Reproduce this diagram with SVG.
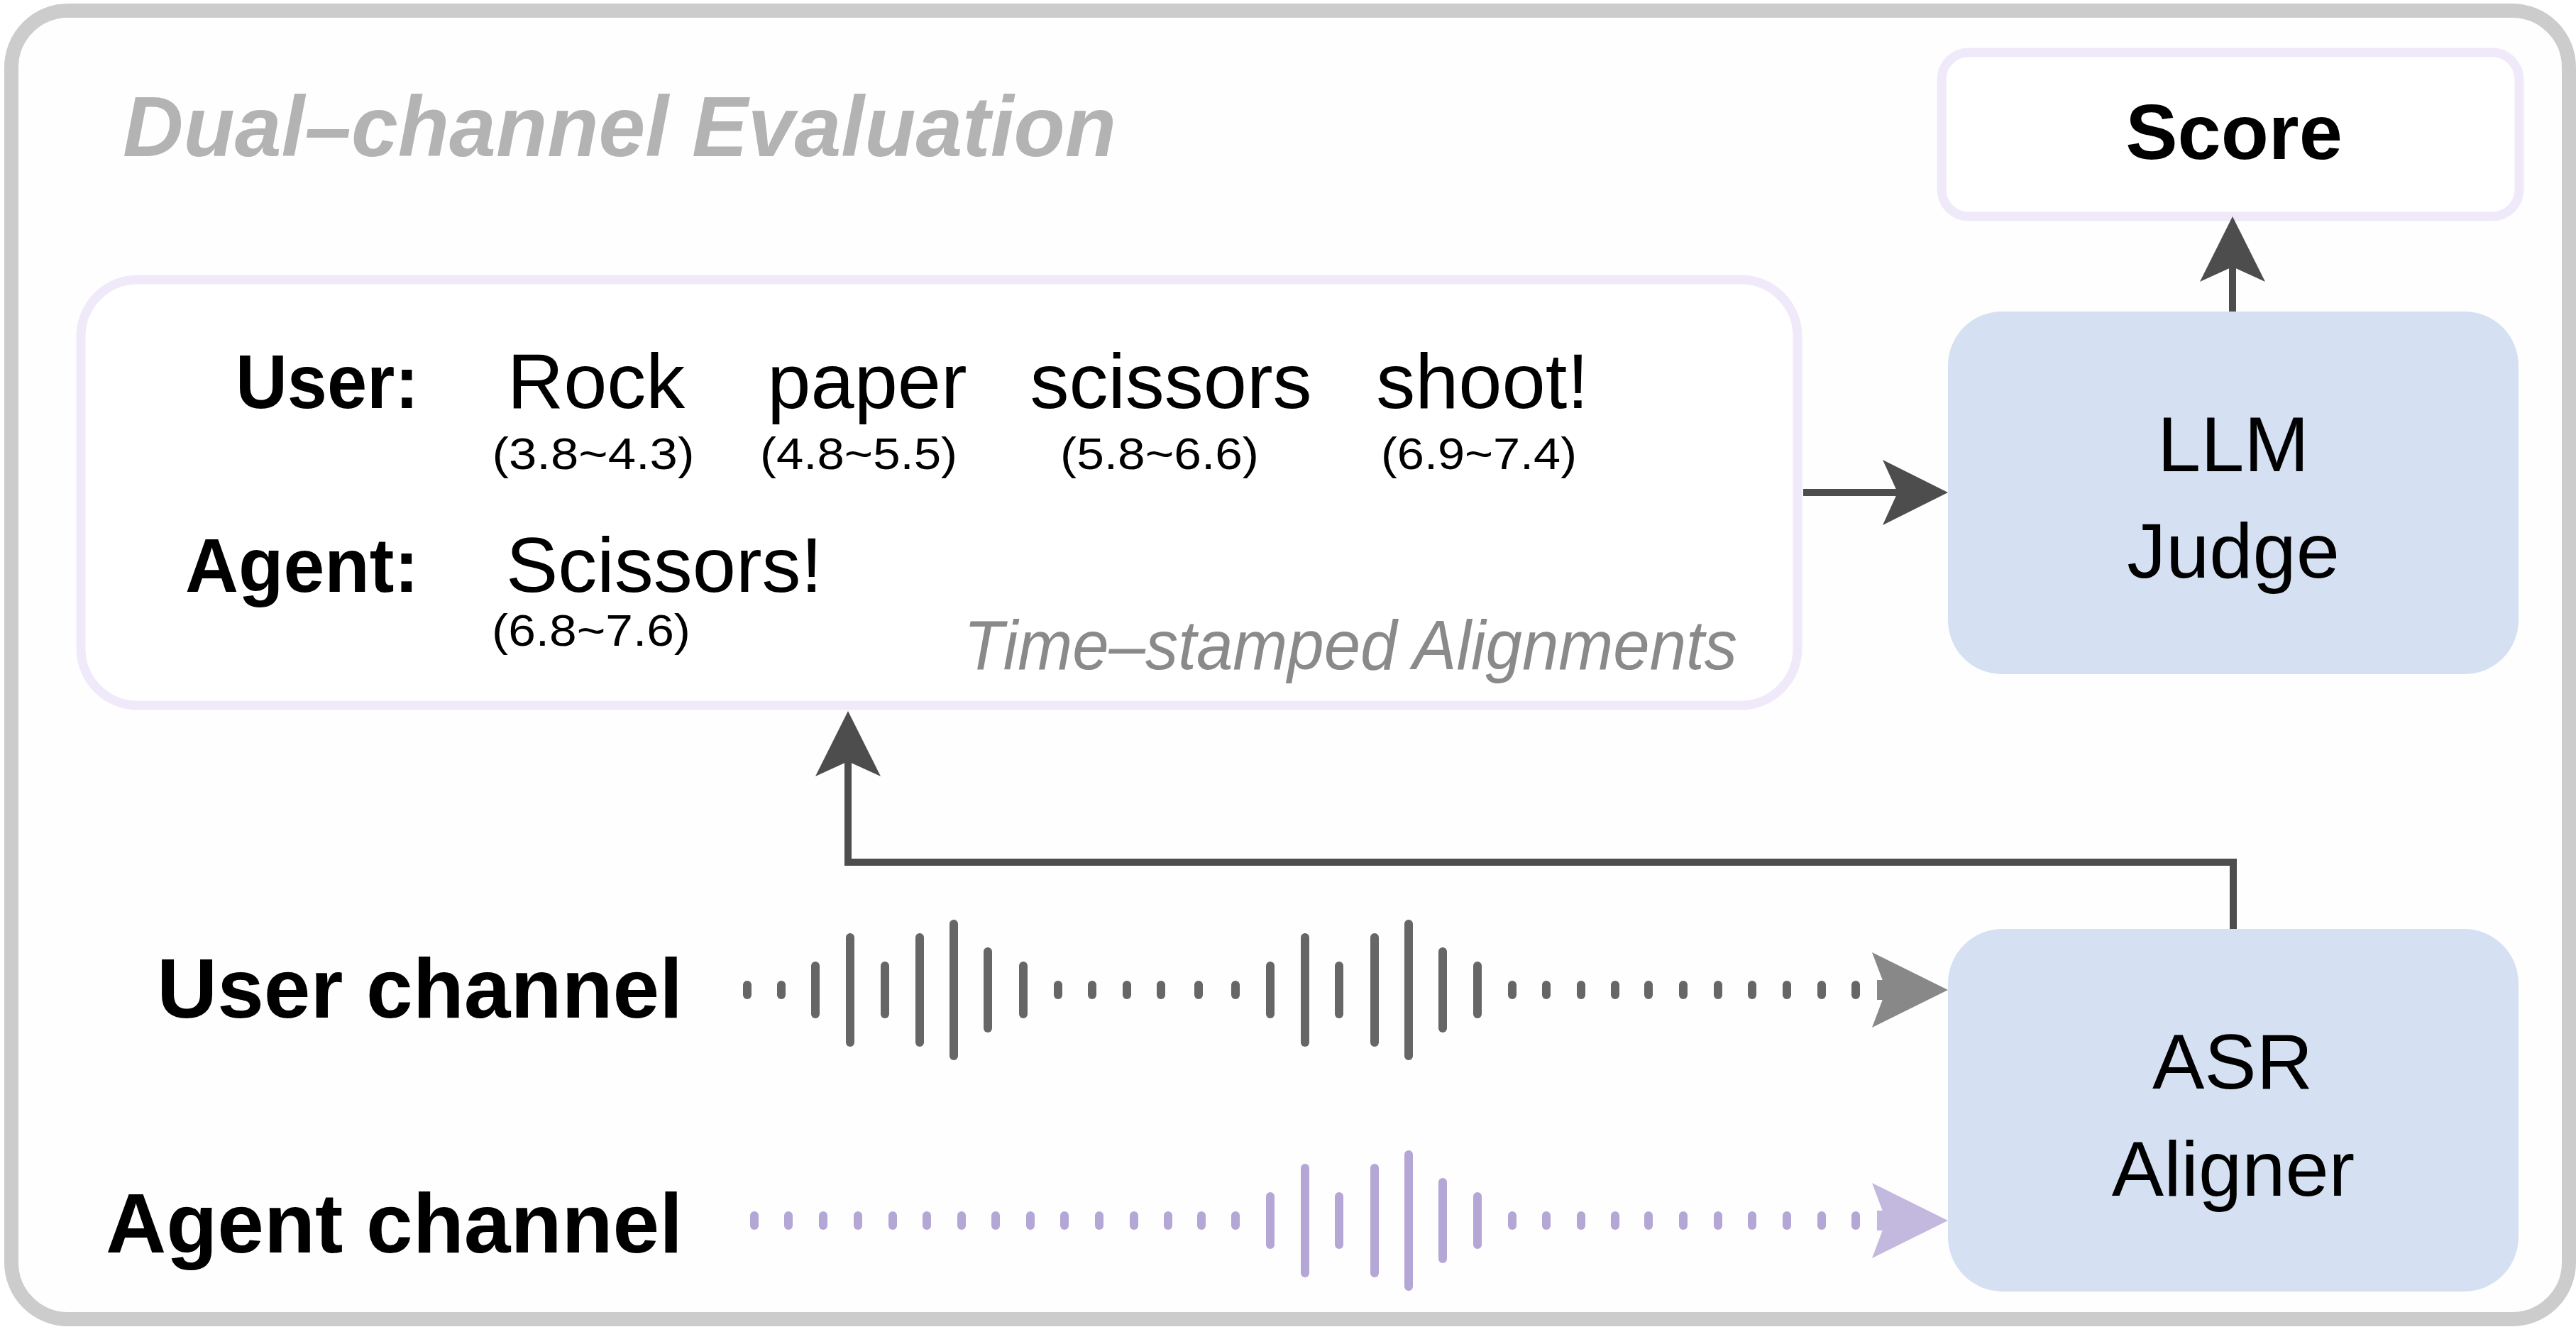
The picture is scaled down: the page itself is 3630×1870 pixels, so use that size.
<svg xmlns="http://www.w3.org/2000/svg" width="3630" height="1870" viewBox="0 0 3630 1870">
<style>
text{font-family:"Liberation Sans",Arial,Helvetica,sans-serif;fill:#000}
.b{font-weight:bold}
.w{font-size:110px}
.ts{font-size:63px;text-anchor:middle}
.mid{text-anchor:middle}
.lbox{fill:#ffffff;stroke:#f0e9f9;stroke-width:13}
.blue{fill:#d5e1f3}
.conn{fill:none;stroke:#4d4d4d;stroke-width:10}
.ub{stroke:#666666;stroke-width:12;stroke-linecap:round}
.ab{stroke:#b4a7d6;stroke-width:12;stroke-linecap:round}
</style>
<defs>
<marker id="ah" markerUnits="userSpaceOnUse" viewBox="0 -46 92 92" markerWidth="92" markerHeight="92" refX="21" refY="0" orient="auto" overflow="visible">
<path d="M0,-46 L92,0 L0,46 L21,0 Z" fill="#4d4d4d"/>
</marker>
<marker id="ahu" markerUnits="userSpaceOnUse" viewBox="0 -53 107 106" markerWidth="107" markerHeight="106" refX="20" refY="0" orient="auto" overflow="visible">
<path d="M0,-53 L107,0 L0,53 L20,0 Z" fill="#888888"/>
</marker>
<marker id="aha" markerUnits="userSpaceOnUse" viewBox="0 -53 107 106" markerWidth="107" markerHeight="106" refX="20" refY="0" orient="auto" overflow="visible">
<path d="M0,-53 L107,0 L0,53 L20,0 Z" fill="#c3b8de"/>
</marker>
</defs>
<rect width="3630" height="1870" fill="#ffffff"/>
<g id="frame">
<rect x="16" y="15" width="3604" height="1844" rx="80" fill="#fefefe" stroke="#cccccc" stroke-width="20"/>
<text x="173" y="220" class="b" font-style="italic" font-size="120" fill="#b3b3b3" style="fill:#b3b3b3" textLength="1400" lengthAdjust="spacingAndGlyphs">Dual–channel Evaluation</text>
</g>
<g id="score">
<rect x="2736" y="74" width="814" height="231" rx="38" class="lbox"/>
<text x="3148" y="224" class="b mid" font-size="110">Score</text>
</g>
<g id="llm-judge">
<rect x="2745" y="439" width="804" height="511" rx="76" class="blue"/>
<text x="3147" y="664" class="mid w">LLM</text>
<text x="3147" y="814" class="mid w">Judge</text>
</g>
<g id="alignments">
<rect x="114" y="394" width="2419" height="600" rx="80" class="lbox"/>
<text x="590" y="575" class="b" font-size="108" text-anchor="end" textLength="258" lengthAdjust="spacingAndGlyphs">User:</text>
<text x="840" y="575" class="w mid">Rock</text>
<text x="1222" y="575" class="w mid">paper</text>
<text x="1650" y="575" class="w mid">scissors</text>
<text x="2089" y="575" class="w mid">shoot!</text>
<text x="836" y="661" class="ts" textLength="285" lengthAdjust="spacingAndGlyphs">(3.8~4.3)</text>
<text x="1210" y="661" class="ts" textLength="278" lengthAdjust="spacingAndGlyphs">(4.8~5.5)</text>
<text x="1634" y="661" class="ts" textLength="280" lengthAdjust="spacingAndGlyphs">(5.8~6.6)</text>
<text x="2084" y="661" class="ts" textLength="276" lengthAdjust="spacingAndGlyphs">(6.9~7.4)</text>
<text x="590" y="834" class="b" font-size="108" text-anchor="end" textLength="329" lengthAdjust="spacingAndGlyphs">Agent:</text>
<text x="936" y="834" class="w mid">Scissors!</text>
<text x="833" y="910" class="ts" textLength="280" lengthAdjust="spacingAndGlyphs">(6.8~7.6)</text>
<text x="1358" y="943" font-style="italic" font-size="98" style="fill:#8a8a8a" textLength="1090" lengthAdjust="spacingAndGlyphs">Time–stamped Alignments</text>
</g>
<g id="asr-aligner">
<rect x="2745" y="1309" width="804" height="511" rx="77" class="blue"/>
<text x="3146" y="1534" class="mid w">ASR</text>
<text x="3147" y="1685" class="mid w">Aligner</text>
</g>
<g id="user-channel">
<text x="962" y="1434" class="b" font-size="118" text-anchor="end">User channel</text>
<g class="ub">
<line x1="1053" y1="1388" x2="1053" y2="1402"/>
<line x1="1101" y1="1388" x2="1101" y2="1402"/>
<line x1="1149" y1="1361" x2="1149" y2="1429"/>
<line x1="1198" y1="1321" x2="1198" y2="1469"/>
<line x1="1247" y1="1361" x2="1247" y2="1429"/>
<line x1="1296" y1="1321" x2="1296" y2="1469"/>
<line x1="1344" y1="1302" x2="1344" y2="1488"/>
<line x1="1392" y1="1341" x2="1392" y2="1449"/>
<line x1="1442" y1="1361" x2="1442" y2="1429"/>
<line x1="1491" y1="1388" x2="1491" y2="1402"/>
<line x1="1539" y1="1388" x2="1539" y2="1402"/>
<line x1="1588" y1="1388" x2="1588" y2="1402"/>
<line x1="1636" y1="1388" x2="1636" y2="1402"/>
<line x1="1689" y1="1388" x2="1689" y2="1402"/>
<line x1="1741" y1="1388" x2="1741" y2="1402"/>
<line x1="1790" y1="1361" x2="1790" y2="1429"/>
<line x1="1839" y1="1321" x2="1839" y2="1469"/>
<line x1="1887" y1="1361" x2="1887" y2="1429"/>
<line x1="1937" y1="1321" x2="1937" y2="1469"/>
<line x1="1985" y1="1302" x2="1985" y2="1488"/>
<line x1="2033" y1="1341" x2="2033" y2="1449"/>
<line x1="2082" y1="1361" x2="2082" y2="1429"/>
<line x1="2131" y1="1388" x2="2131" y2="1402"/>
<line x1="2179" y1="1388" x2="2179" y2="1402"/>
<line x1="2228" y1="1388" x2="2228" y2="1402"/>
<line x1="2276" y1="1388" x2="2276" y2="1402"/>
<line x1="2323" y1="1388" x2="2323" y2="1402"/>
<line x1="2372" y1="1388" x2="2372" y2="1402"/>
<line x1="2421" y1="1388" x2="2421" y2="1402"/>
<line x1="2469" y1="1388" x2="2469" y2="1402"/>
<line x1="2518" y1="1388" x2="2518" y2="1402"/>
<line x1="2567" y1="1388" x2="2567" y2="1402"/>
<line x1="2615" y1="1388" x2="2615" y2="1402"/>
</g>
</g>
<g id="agent-channel">
<text x="962" y="1765" class="b" font-size="118" text-anchor="end">Agent channel</text>
<g class="ab">
<line x1="1063" y1="1713" x2="1063" y2="1727"/>
<line x1="1111" y1="1713" x2="1111" y2="1727"/>
<line x1="1160" y1="1713" x2="1160" y2="1727"/>
<line x1="1209" y1="1713" x2="1209" y2="1727"/>
<line x1="1258" y1="1713" x2="1258" y2="1727"/>
<line x1="1306" y1="1713" x2="1306" y2="1727"/>
<line x1="1355" y1="1713" x2="1355" y2="1727"/>
<line x1="1403" y1="1713" x2="1403" y2="1727"/>
<line x1="1452" y1="1713" x2="1452" y2="1727"/>
<line x1="1500" y1="1713" x2="1500" y2="1727"/>
<line x1="1549" y1="1713" x2="1549" y2="1727"/>
<line x1="1598" y1="1713" x2="1598" y2="1727"/>
<line x1="1646" y1="1713" x2="1646" y2="1727"/>
<line x1="1693" y1="1713" x2="1693" y2="1727"/>
<line x1="1741" y1="1713" x2="1741" y2="1727"/>
<line x1="1790" y1="1686" x2="1790" y2="1754"/>
<line x1="1839" y1="1646" x2="1839" y2="1794"/>
<line x1="1887" y1="1686" x2="1887" y2="1754"/>
<line x1="1937" y1="1646" x2="1937" y2="1794"/>
<line x1="1985" y1="1627" x2="1985" y2="1813"/>
<line x1="2033" y1="1666" x2="2033" y2="1774"/>
<line x1="2082" y1="1686" x2="2082" y2="1754"/>
<line x1="2131" y1="1713" x2="2131" y2="1727"/>
<line x1="2179" y1="1713" x2="2179" y2="1727"/>
<line x1="2228" y1="1713" x2="2228" y2="1727"/>
<line x1="2276" y1="1713" x2="2276" y2="1727"/>
<line x1="2323" y1="1713" x2="2323" y2="1727"/>
<line x1="2372" y1="1713" x2="2372" y2="1727"/>
<line x1="2421" y1="1713" x2="2421" y2="1727"/>
<line x1="2469" y1="1713" x2="2469" y2="1727"/>
<line x1="2518" y1="1713" x2="2518" y2="1727"/>
<line x1="2567" y1="1713" x2="2567" y2="1727"/>
<line x1="2615" y1="1713" x2="2615" y2="1727"/>
</g>
</g>
<g id="connectors">
<path class="conn" d="M3146,439 V376" marker-end="url(#ah)"/>
<path class="conn" d="M2541,694 H2674" marker-end="url(#ah)"/>
<path class="conn" d="M3147,1309 V1215 H1195 V1073" marker-end="url(#ah)"/>
<path d="M2645,1395 H2658" fill="none" stroke="#888888" stroke-width="28" marker-end="url(#ahu)"/>
<path d="M2645,1720 H2658" fill="none" stroke="#c3b8de" stroke-width="28" marker-end="url(#aha)"/>
</g>
</svg>
